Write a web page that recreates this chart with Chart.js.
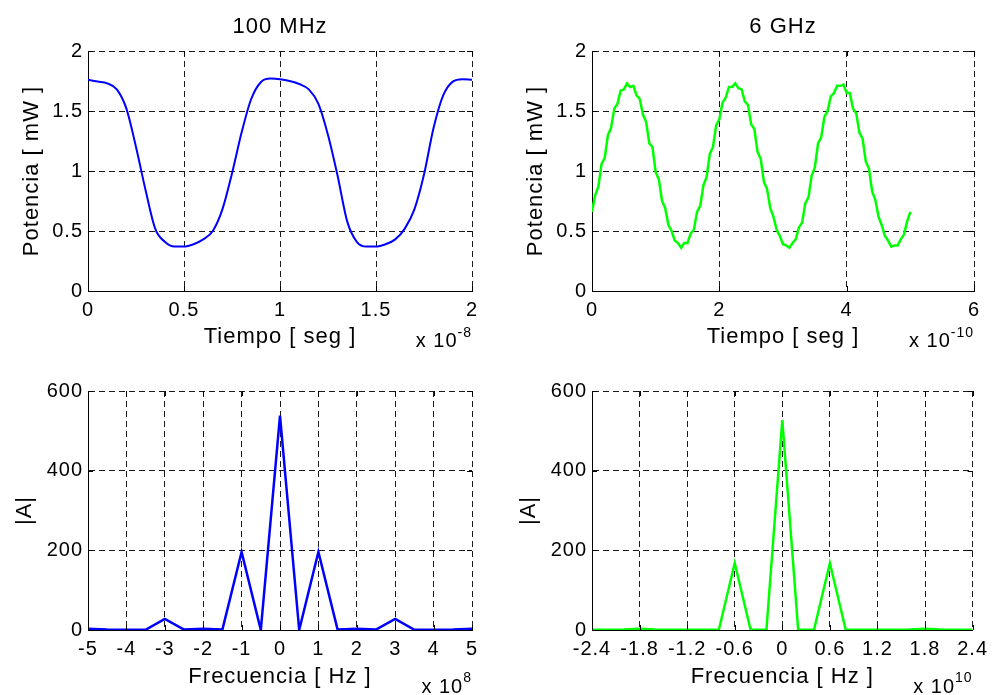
<!DOCTYPE html>
<html>
<head>
<meta charset="utf-8">
<title>Potencia y espectro</title>
<script src="https://cdn.jsdelivr.net/npm/chart.js@4.4.1/dist/chart.umd.min.js"></script>
<style>
  html, body { margin: 0; padding: 0; background: #fff; }
  #fig { position: relative; width: 995px; height: 695px; }
  canvas { position: absolute; }
</style>
</head>
<body>
<div id="fig">
  <canvas id="c1" width="497" height="362" style="left:0;top:0"></canvas>
  <canvas id="c2" width="498" height="362" style="left:497px;top:0"></canvas>
  <canvas id="c3" width="497" height="333" style="left:0;top:362px"></canvas>
  <canvas id="c4" width="498" height="333" style="left:497px;top:362px"></canvas>
</div>
<script>
// --- 100 MHz, time domain (x in units of 1e-8 s) ---
const tiempo100 = [0,0.05,0.1,0.15,0.2,0.25,0.3,0.35,0.4,0.45,0.5,0.55,0.6,0.65,0.7,0.75,0.8,0.85,0.9,0.95,
  1,1.05,1.1,1.15,1.2,1.25,1.3,1.35,1.4,1.45,1.5,1.55,1.6,1.65,1.7,1.75,1.8,1.85,1.9,1.95,2];
const potencia100 = [1.76,1.745,1.73,1.68,1.52,1.20,0.84,0.52,0.41,0.37,0.37,0.39,0.43,0.50,0.68,0.98,1.32,1.60,1.74,1.77,
  1.765,1.75,1.725,1.68,1.56,1.30,0.96,0.58,0.41,0.37,0.37,0.39,0.43,0.52,0.68,0.97,1.36,1.63,1.745,1.765,1.76];

// --- 6 GHz, time domain (x in units of 1e-10 s) ---
const tiempo6 = [0,0.05,0.1,0.15,0.2,0.25,0.3,0.35,0.4,0.45,0.5,0.55,0.6,0.65,0.7,0.75,0.8,0.85,0.9,0.95,
  1,1.05,1.1,1.15,1.2,1.25,1.3,1.35,1.4,1.45,1.5,1.55,1.6,1.65,1.7,1.75,1.8,1.85,1.9,1.95,
  2,2.05,2.1,2.15,2.2,2.25,2.3,2.35,2.4,2.45,2.5,2.55,2.6,2.65,2.7,2.75,2.8,2.85,2.9,2.95,
  3,3.05,3.1,3.15,3.2,3.25,3.3,3.35,3.4,3.45,3.5,3.55,3.6,3.65,3.7,3.75,3.8,3.85,3.9,3.95,
  4,4.05,4.1,4.15,4.2,4.25,4.3,4.35,4.4,4.45,4.5,4.55,4.6,4.65,4.7,4.75,4.8,4.85,4.9,4.95,5];
const potencia6 = [0.66,0.80,0.87,1.06,1.11,1.30,1.36,1.52,1.56,1.67,
  1.68,1.73,1.70,1.71,1.63,1.60,1.47,1.41,1.23,1.20,
  0.99,0.93,0.75,0.69,0.55,0.50,0.42,0.40,0.36,0.40,
  0.40,0.48,0.51,0.66,0.71,0.88,0.95,1.14,1.20,1.38,
  1.43,1.57,1.61,1.70,1.70,1.73,1.69,1.68,1.58,1.55,
  1.39,1.35,1.16,1.10,0.91,0.85,0.69,0.62,0.51,0.46,
  0.39,0.38,0.36,0.40,0.43,0.53,0.57,0.73,0.78,0.96,
  1.03,1.23,1.28,1.45,1.50,1.62,1.65,1.71,1.71,1.72,
  1.65,1.65,1.52,1.48,1.32,1.27,1.08,1.02,0.83,0.76,
  0.62,0.55,0.46,0.42,0.37,0.38,0.38,0.43,0.47,0.58,
  0.66];

// --- spectra (x in units of 1e8 Hz and 1e10 Hz) ---
const frec100 = [-5,-4.5,-4,-3.5,-3,-2.5,-2,-1.5,-1,-0.5,0,0.5,1,1.5,2,2.5,3,3.5,4,4.5,5];
const amp100  = [3,1,0.5,0.5,28,1,3,1,196,0,538,0,196,1,3,1,28,0.5,0.5,1,3];
const frec6 = [-2.4,-2.2,-2,-1.8,-1.6,-1.4,-1.2,-1,-0.8,-0.6,-0.4,-0.2,0,0.2,0.4,0.6,0.8,1,1.2,1.4,1.6,1.8,2,2.2,2.4];
const amp6  = [0.5,0.5,1,3,1,0.5,0.5,0.5,0.5,168,0.5,0.5,527,0.5,0.5,168,0.5,0.5,0.5,0.5,1,3,1,0.5,0.5];

// --- ticks ---
const potTicks = [0,0.5,1,1.5,2];
const potLabels = ['0','0.5','1','1.5','2'];
const t100Ticks = [0,0.5,1,1.5,2];
const t100Labels = ['0','0.5','1','1.5','2'];
const t6Ticks = [0,2,4,6];
const t6Labels = ['0','2','4','6'];
const ampTicks = [0,200,400,600];
const ampLabels = ['0','200','400','600'];
const f100Ticks = [-5,-4,-3,-2,-1,0,1,2,3,4,5];
const f100Labels = ['-5','-4','-3','-2','-1','0','1','2','3','4','5'];
const f6Ticks = [-2.4,-1.8,-1.2,-0.6,0,0.6,1.2,1.8,2.4];
const f6Labels = ['-2.4','-1.8','-1.2','-0.6','0','0.6','1.2','1.8','2.4'];

const FONT = '"Liberation Sans", Arial, Helvetica, sans-serif';
const SPACING = '1px';

// matlab-like extras: inner tick marks, titles, axis labels, exponent
const matlabLook = {
  id: 'matlabLook',
  beforeLayout(chart) { chart.ctx.letterSpacing = SPACING; },
  beforeDraw(chart) { chart.ctx.letterSpacing = SPACING; },
  afterDraw(chart, args, o) {
    const ctx = chart.ctx, a = chart.chartArea, x = chart.scales.x, y = chart.scales.y;
    ctx.save();
    ctx.letterSpacing = SPACING;
    ctx.strokeStyle = '#000';
    ctx.lineWidth = 1;
    ctx.setLineDash([]);
    ctx.beginPath();
    x.ticks.forEach(t => {
      const px = Math.round(x.getPixelForValue(t.value)) + 0.5;
      ctx.moveTo(px, a.bottom); ctx.lineTo(px, a.bottom - 5);
      ctx.moveTo(px, a.top); ctx.lineTo(px, a.top + 5);
    });
    y.ticks.forEach(t => {
      const py = Math.round(y.getPixelForValue(t.value)) + 0.5;
      ctx.moveTo(a.left, py); ctx.lineTo(a.left + 5, py);
      ctx.moveTo(a.right, py); ctx.lineTo(a.right - 5, py);
    });
    ctx.stroke();

    const cx = (a.left + a.right) / 2;
    ctx.fillStyle = '#000';
    ctx.textBaseline = 'alphabetic';
    ctx.textAlign = 'center';
    ctx.font = '22px ' + FONT;
    if (o.title) ctx.fillText(o.title, cx, o.titleY);
    ctx.fillText(o.xTitle, cx, a.bottom + o.xTitleDy);
    ctx.save();
    ctx.translate(a.left - o.yTitleDx, (a.top + a.bottom) / 2);
    ctx.rotate(-Math.PI / 2);
    ctx.fillText(o.yTitle, 0, 0);
    ctx.restore();

    ctx.textAlign = 'right';
    ctx.font = '14px ' + FONT;
    ctx.fillText(o.exp, a.right, a.bottom + o.supDy);
    const w = ctx.measureText(o.exp).width;
    ctx.font = '20px ' + FONT;
    ctx.fillText('x 10', a.right - w, a.bottom + o.expDy);
    ctx.restore();
  }
};

function panel(id, p) {
  const cv = document.getElementById(id);
  const W = cv.width, H = cv.height;
  const tickFont = { family: FONT, size: 20 };
  return new Chart(cv, {
    type: 'line',
    data: {
      datasets: [{
        data: p.xs.map((v, i) => ({ x: v, y: p.ys[i] })),
        borderColor: p.color,
        borderWidth: p.width || 2,
        pointRadius: 0,
        fill: false,
        tension: p.tension || 0,
        cubicInterpolationMode: p.tension ? 'monotone' : 'default'
      }]
    },
    options: {
      responsive: false,
      animation: false,
      events: [],
      layout: { padding: { left: 0, top: p.area.top, right: W - p.area.right, bottom: 0 } },
      plugins: {
        legend: { display: false },
        tooltip: { enabled: false },
        matlabLook: p.text
      },
      scales: {
        x: {
          type: 'linear',
          min: p.xTicks[0],
          max: p.xTicks[p.xTicks.length - 1],
          afterBuildTicks: s => { s.ticks = p.xTicks.map(v => ({ value: v })); },
          afterFit: s => { s.height = H - p.area.bottom; },
          ticks: {
            callback: (v, i) => p.xLabels[i],
            color: '#000', font: tickFont, padding: 7,
            maxRotation: 0, autoSkip: false
          },
          grid: { color: '#1a1a1a', lineWidth: 1, drawTicks: false },
          border: { color: '#000', width: 1, dash: [6, 4] }
        },
        y: {
          type: 'linear',
          min: p.yTicks[0],
          max: p.yTicks[p.yTicks.length - 1],
          afterBuildTicks: s => { s.ticks = p.yTicks.map(v => ({ value: v })); },
          afterFit: s => { s.width = p.area.left; },
          ticks: {
            callback: (v, i) => p.yLabels[i],
            color: '#000', font: tickFont, padding: 5, autoSkip: false
          },
          grid: { color: '#1a1a1a', lineWidth: 1, drawTicks: false },
          border: { color: '#000', width: 1, dash: [6, 4] }
        }
      }
    },
    plugins: [matlabLook]
  });
}

panel('c1', {
  xs: tiempo100, ys: potencia100, color: '#0000ff', tension: 0.4,
  xTicks: t100Ticks, xLabels: t100Labels, yTicks: potTicks, yLabels: potLabels,
  area: { left: 88, right: 472, top: 51, bottom: 291 },
  text: { title: '100 MHz', titleY: 33, xTitle: 'Tiempo [ seg ]', xTitleDy: 52,
          yTitle: 'Potencia [ mW ]', yTitleDx: 50, exp: '-8', supDy: 46, expDy: 56 }
});
panel('c2', {
  xs: tiempo6, ys: potencia6, color: '#00ff00', width: 2.5,
  xTicks: t6Ticks, xLabels: t6Labels, yTicks: potTicks, yLabels: potLabels,
  area: { left: 95, right: 477, top: 51, bottom: 291 },
  text: { title: '6 GHz', titleY: 33, xTitle: 'Tiempo [ seg ]', xTitleDy: 52,
          yTitle: 'Potencia [ mW ]', yTitleDx: 50, exp: '-10', supDy: 46, expDy: 56 }
});
panel('c3', {
  xs: frec100, ys: amp100, color: '#0000ff', width: 2.5,
  xTicks: f100Ticks, xLabels: f100Labels, yTicks: ampTicks, yLabels: ampLabels,
  area: { left: 88, right: 472, top: 29, bottom: 268 },
  text: { title: '', titleY: 0, xTitle: 'Frecuencia [ Hz ]', xTitleDy: 53,
          yTitle: '|A|', yTitleDx: 57, exp: '8', supDy: 52, expDy: 63 }
});
panel('c4', {
  xs: frec6, ys: amp6, color: '#00ff00', width: 2.5,
  xTicks: f6Ticks, xLabels: f6Labels, yTicks: ampTicks, yLabels: ampLabels,
  area: { left: 95, right: 477, top: 29, bottom: 268 },
  text: { title: '', titleY: 0, xTitle: 'Frecuencia [ Hz ]', xTitleDy: 53,
          yTitle: '|A|', yTitleDx: 57, exp: '10', supDy: 52, expDy: 63 }
});
</script>
</body>
</html>
